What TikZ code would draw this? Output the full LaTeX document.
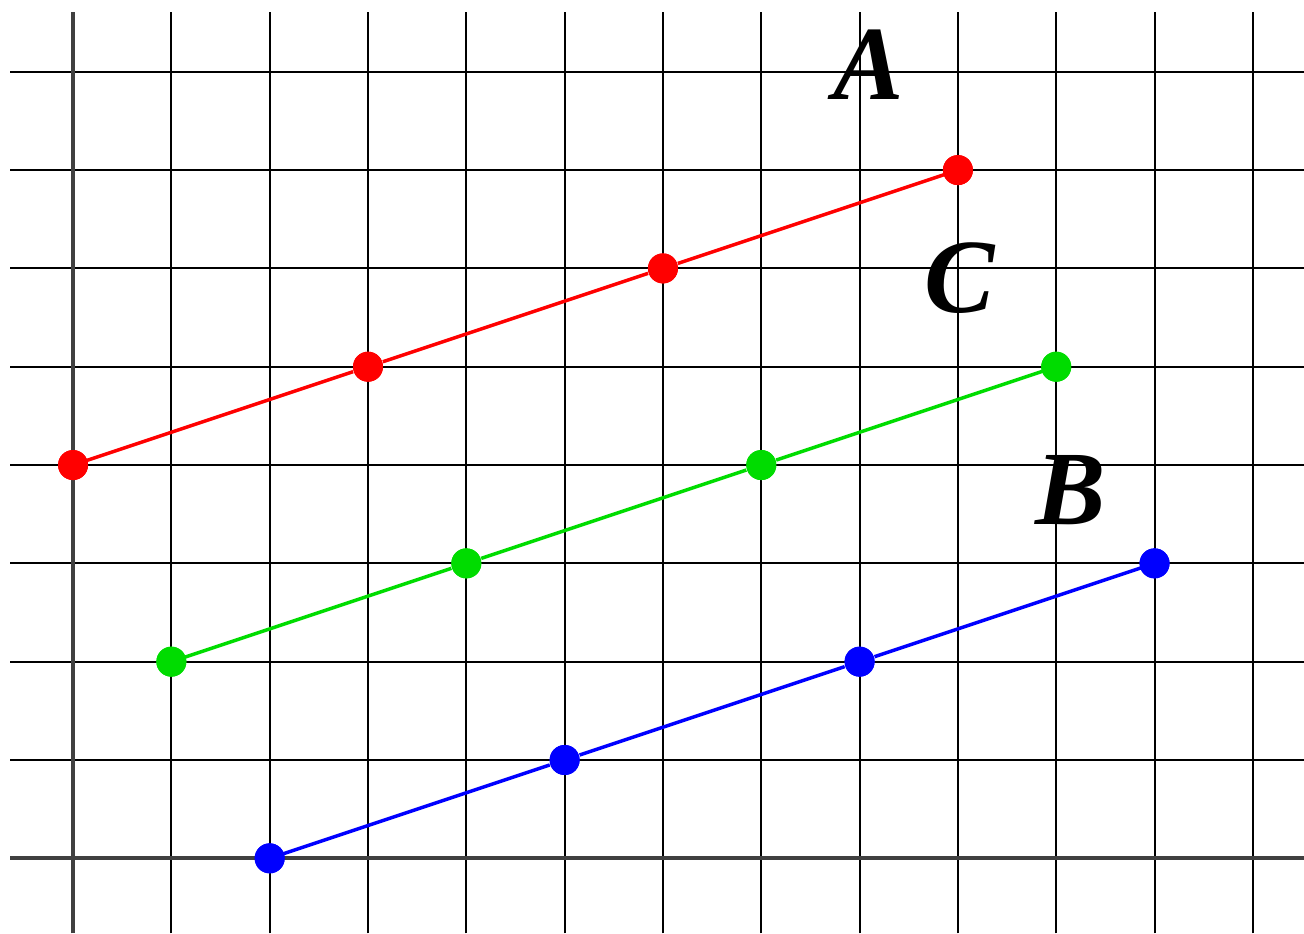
\documentclass[tikz,border=0pt]{standalone}
\usepackage{fontspec}
\setmainfont{Liberation Serif}
\definecolor{gr}{RGB}{0,220,0}
\begin{document}
\begin{tikzpicture}[x=0.983cm,y=0.983cm,
  gridline/.style={black,line width=0.6pt},
  axisline/.style={black!75,line width=1.2pt},
  seg/.style={line width=1pt},
  dot/.style={circle,fill,inner sep=0pt,minimum size=0.3cm},
  lbl/.style={font=\fontsize{30}{34}\selectfont\bfseries\itshape}]
\useasboundingbox (-0.743,-0.763) rectangle (12.52,8.73);
\foreach \i in {1,...,12} \draw[gridline] (\i,-0.763) -- (\i,8.61);
\foreach \j in {1,...,8} \draw[gridline] (-0.64,\j) -- (12.52,\j);
\draw[axisline] (0,-0.763) -- (0,8.61);
\draw[axisline] (-0.64,0) -- (12.52,0);
% red
\node[dot,red] (r1) at (0,4) {};
\node[dot,red] (r2) at (3,5) {};
\node[dot,red] (r3) at (6,6) {};
\node[dot,red] (r4) at (9,7) {};
% green
\node[dot,gr] (g1) at (1,2) {};
\node[dot,gr] (g2) at (4,3) {};
\node[dot,gr] (g3) at (7,4) {};
\node[dot,gr] (g4) at (10,5) {};
% blue
\node[dot,blue] (b1) at (2,0) {};
\node[dot,blue] (b2) at (5,1) {};
\node[dot,blue] (b3) at (8,2) {};
\node[dot,blue] (b4) at (11,3) {};
\draw[seg,red] (r1.center) -- (r2) -- (r3) -- (r4.center);
\draw[seg,gr] (g1.center) -- (g2) -- (g3) -- (g4.center);
\draw[seg,blue] (b1.center) -- (b2) -- (b3) -- (b4.center);
\foreach \n in {r1,r2,r3,r4} \node[dot,red] at (\n) {};
\foreach \n in {g1,g2,g3,g4} \node[dot,gr] at (\n) {};
\foreach \n in {b1,b2,b3,b4} \node[dot,blue] at (\n) {};
\node[lbl] (A) at (8.09,8.07) {A};
\node[lbl] (C) at (9.02,5.90) {C};
\node[lbl] (B) at (10.15,3.74) {B};
\end{tikzpicture}
\end{document}
